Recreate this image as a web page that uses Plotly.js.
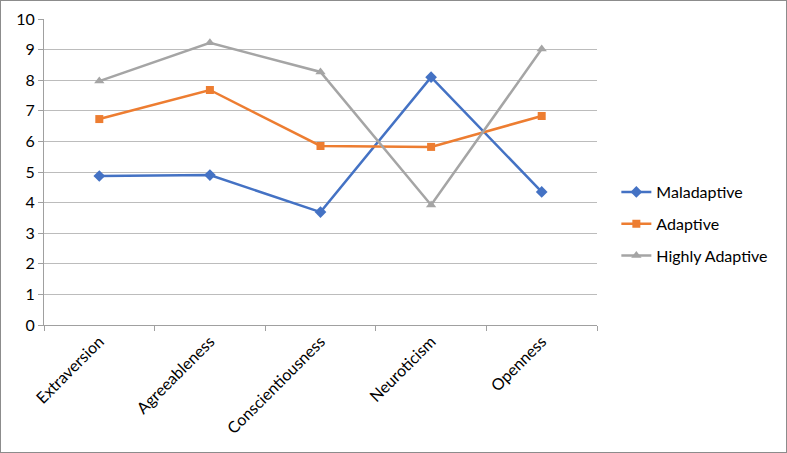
<!DOCTYPE html>
<html>
<head>
<meta charset="utf-8">
<script src="https://cdn.plot.ly/plotly-3.0.1.min.js"></script>
<style>
html,body{margin:0;padding:0;background:#fff;}
#wrap{width:787px;height:453px;box-sizing:border-box;border:1px solid #8c8c8c;}
#chart{width:785px;height:451px;}
</style>
</head>
<body>
<div id="wrap"><div id="chart"></div></div>
<script>
var categories = ["Extraversion", "Agreeableness", "Conscientiousness", "Neuroticism", "Openness"];
var maladaptive = [4.87, 4.90, 3.69, 8.10, 4.35];
var adaptive = [6.73, 7.68, 5.85, 5.82, 6.83];
var highlyAdaptive = [7.97, 9.22, 8.27, 3.92, 9.02];
var yTicks = [0,1,2,3,4,5,6,7,8,9,10];

var fontFam = "Lato, 'Open Sans', sans-serif";
function tr(name, y, color, symbol, size, grp){
  return {
    type: 'scatter', mode: 'lines+markers', name: name,
    x: categories, y: y, legendgroup: grp,
    line: {color: color, width: 2.5},
    marker: {color: color, symbol: symbol, size: size}
  };
}
var data = [
  tr('Maladaptive', maladaptive, '#4472C4', 'diamond', 9, 'a'),
  tr('Adaptive', adaptive, '#ED7D31', 'square', 8, 'b'),
  tr('Highly Adaptive', highlyAdaptive, '#A5A5A5', 'triangle-up', 9, 'c')
];
var layout = {
  width: 785, height: 451,
  margin: {l: 43, r: 189, t: 18, b: 127},
  paper_bgcolor: '#fff', plot_bgcolor: '#fff',
  font: {family: fontFam, size: 16, color: '#000'},
  showlegend: true,
  legend: {x: 1.035, y: 0.33, yanchor: 'middle', xanchor: 'left',
    font: {family: fontFam, size: 16, color: '#000'},
    traceorder: 'grouped', tracegroupgap: 8, itemwidth: 30},
  xaxis: {
    type: 'category', range: [-0.5, 4.5],
    tickangle: -45, tickfont: {family: fontFam, size: 16, color: '#000'},
    showgrid: false, showline: true, linecolor: '#a0a0a0', linewidth: 1,
    ticks: 'outside', ticklen: 5, tickcolor: '#a0a0a0', tickson: 'boundaries',
    zeroline: false
  },
  yaxis: {
    range: [0, 10], tickvals: yTicks, ticktext: yTicks.map(String),
    tickfont: {family: fontFam, size: 16, color: '#000'},
    showgrid: true, gridcolor: '#bcbcbc', gridwidth: 1,
    showline: true, linecolor: '#a0a0a0', linewidth: 1,
    ticks: 'outside', ticklen: 5, tickcolor: '#a0a0a0',
    zeroline: false
  }
};
Plotly.newPlot('chart', data, layout, {displayModeBar: false, staticPlot: true});
</script>
</body>
</html>
